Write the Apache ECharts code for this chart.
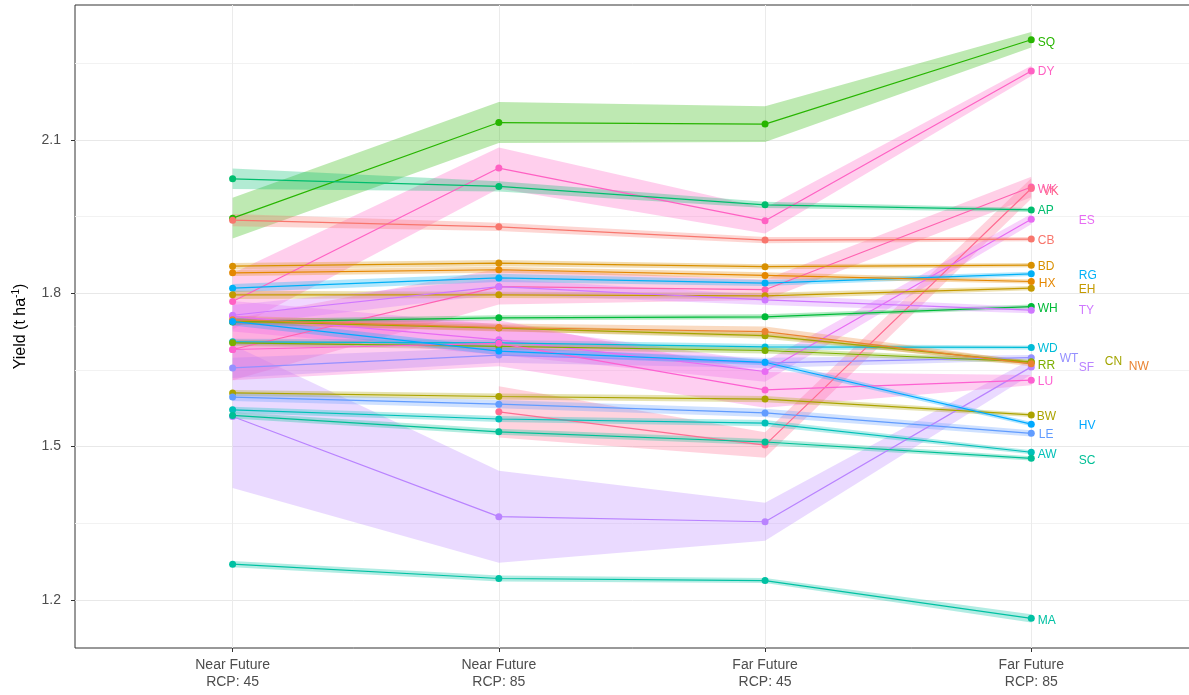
<!DOCTYPE html>
<html><head><meta charset="utf-8">
<script src="https://cdn.jsdelivr.net/npm/echarts@6/dist/echarts.min.js"></script>
<style>html,body{margin:0;padding:0;background:#fff}#c{width:1189px;height:695px}</style>
</head><body><div id="c"></div>
<script>
// ---------- data ----------
const categories = ['Near Future\nRCP: 45', 'Near Future\nRCP: 85', 'Far Future\nRCP: 45', 'Far Future\nRCP: 85'];
const sites = ['SQ','DY','WK','VK','AP','ES','CB','BD','RG','HX','EH','WH','TY','WD','WT','RR','SF','CN','NW','LU','BW','HV','LE','AW','SC','MA'];
// mean yield (t/ha) per scenario, in site order
const nearRcp45 = [1.947,1.784,1.690,null,2.024,1.755,1.943,1.853,1.810,1.840,1.797,1.744,1.757,1.705,1.654,1.703,1.559,1.745,1.748,1.690,1.605,1.745,1.597,1.572,1.561,1.270];
const nearRcp85 = [2.134,2.045,1.813,1.568,2.009,1.709,1.930,1.859,1.830,1.846,1.797,1.752,1.813,1.703,1.679,1.696,1.363,1.732,1.733,1.702,1.598,1.687,1.583,1.554,1.529,1.242];
const farRcp45  = [2.131,1.942,1.807,1.503,1.973,1.647,1.904,1.852,1.820,1.835,1.795,1.754,1.787,1.695,1.664,1.688,1.353,1.717,1.725,1.611,1.593,1.665,1.566,1.546,1.509,1.238];
const farRcp85  = [2.296,2.235,2.008,2.005,1.963,1.945,1.906,1.855,1.838,1.823,1.810,1.774,1.767,1.694,1.674,1.666,1.656,1.665,1.662,1.630,1.562,1.544,1.526,1.489,1.477,1.164];
// half width of the uncertainty ribbon per scenario
const bandNear45 = [0.040,0.055,0.060,null,0.020,0.030,0.012,0.006,0.008,0.006,0.008,0.005,0.020,0.006,0.020,0.006,0.140,0.006,0.008,0.060,0.006,0.008,0.008,0.006,0.006,0.006];
const bandNear85 = [0.040,0.040,0.035,0.050,0.010,0.030,0.008,0.006,0.008,0.006,0.006,0.005,0.015,0.006,0.015,0.006,0.090,0.006,0.008,0.045,0.006,0.008,0.008,0.006,0.006,0.006];
const bandFar45  = [0.035,0.025,0.020,0.025,0.006,0.020,0.006,0.005,0.006,0.006,0.006,0.005,0.010,0.006,0.010,0.006,0.037,0.006,0.010,0.035,0.006,0.006,0.008,0.006,0.006,0.005];
const bandFar85  = [0.015,0.010,0.020,0.020,0.004,0.010,0.004,0.004,0.004,0.004,0.004,0.004,0.006,0.004,0.005,0.004,0.015,0.004,0.005,0.010,0.004,0.004,0.006,0.004,0.004,0.008];
const yTicks = [1.2, 1.5, 1.8, 2.1];
const yMinor = [1.35, 1.65, 1.95, 2.25];
const xTicks = [0, 1, 2, 3];

// ---------- styles ----------
const colors = ['#27B500','#FF61C3','#FF62B0','#FF6C91','#00BD6E','#E76BF3','#F8766D','#D89000','#00B0F6','#E58700','#C49A00','#00BA38','#CF78FF','#00BCD8','#9590FF','#7CAE00','#B983FF','#A3A500','#EA8331','#FD61D1','#ABA300','#00A9FF','#619CFF','#00C0B8','#00BF96','#00C1A3'];
const labelShift = [[0,3],[0,1],[0,3],[5,3],[0,1],[41,2],[0,2],[0,2],[41,2],[1,2],[41,2],[0,2],[41,1],[0,1],[22,1],[0,4],[41,1],[67,-1],[91,3],[0,2],[-1,2],[41,2],[1,1],[0,2],[41,2],[0,2]];

const scen = [nearRcp45, nearRcp85, farRcp45, farRcp85];
const bands = [bandNear45, bandNear85, bandFar45, bandFar85];
function rgba(hex, a){const n=parseInt(hex.slice(1),16);return `rgba(${n>>16&255},${n>>8&255},${n&255},${a})`;}

const series = [];
// grid lines
series.push({
  type:'line', data:[], symbol:'none', silent:true, z:0,
  markLine:{silent:true, symbol:'none', z:0, animation:false, label:{show:false},
    data:[
      ...yMinor.map(v=>({yAxis:v, lineStyle:{color:'#f2f2f2', width:1, type:'solid'}})),
      ...yTicks.map(v=>({yAxis:v, lineStyle:{color:'#e8e8e8', width:1, type:'solid'}})),
      ...xTicks.map(v=>({xAxis:v, lineStyle:{color:'#ebebeb', width:1, type:'solid'}}))
    ]}
});
// ribbons
sites.forEach((name,i)=>{
  const pts=[];
  for(let k=0;k<4;k++){const v=scen[k][i], b=bands[k][i]; if(v!=null&&b!=null) pts.push([k, v-b, v+b]);}
  series.push({
    type:'custom', name:name+' band', silent:true, z:1, data:pts, encode:{x:0,y:[1,2]},
    renderItem:(params, api)=>{
      if(params.dataIndex!==0) return null;
      const up=[], lo=[];
      for(let j=0;j<pts.length;j++){
        up.push(api.coord([api.value(0,j), api.value(2,j)]));
        lo.push(api.coord([api.value(0,j), api.value(1,j)]));
      }
      return {type:'polygon', shape:{points:up.concat(lo.reverse())}, style:{fill:rgba(colors[i],0.3)}};
    }
  });
});
// lines + points + labels
sites.forEach((name,i)=>{
  const data=[];
  for(let k=0;k<4;k++){
    const v=scen[k][i]; if(v==null) continue;
    const item={value:[k,v]};
    if(k===3){
      item.label={show:true, position:'right', distance:3, offset:labelShift[i], formatter:name,
        color:colors[i], fontSize:12, fontFamily:'Liberation Sans, Arial, sans-serif'};
    }
    data.push(item);
  }
  series.push({type:'line', name, data, z:2, symbol:'circle', symbolSize:7, showSymbol:true,
    itemStyle:{color:colors[i]}, lineStyle:{color:colors[i], width:1.2}, silent:true});
});

const chart = echarts.init(document.getElementById('c'));
chart.setOption({
  animation:false,
  backgroundColor:'#ffffff',
  textStyle:{fontFamily:'Liberation Sans, Arial, sans-serif'},
  grid:{left:75, right:-2, top:5, bottom:47, outerBoundsMode:'none', containLabel:false,
    show:true, borderColor:'#333333', borderWidth:1, backgroundColor:'transparent'},
  xAxis:{type:'value', min:-0.592, max:3.6,
    axisLine:{show:false, onZero:false}, splitLine:{show:false},
    axisTick:{show:true, customValues:xTicks, length:4, lineStyle:{color:'#333333'}},
    axisLabel:{customValues:xTicks, formatter:v=>categories[Math.round(v)], color:'#4d4d4d', fontSize:14, lineHeight:17, margin:9}
  },
  yAxis:{type:'value', min:1.106, max:2.364,
    name:'Yield (t ha{sup|-1})', nameLocation:'middle', nameGap:45, nameRotate:90,
    nameTextStyle:{color:'#000', fontSize:16, rich:{sup:{fontSize:10, verticalAlign:'top', padding:[0,0,9,0], color:'#000'}}},
    axisLine:{show:false, onZero:false}, splitLine:{show:false},
    axisTick:{show:true, customValues:yTicks, length:4, lineStyle:{color:'#333333'}},
    axisLabel:{customValues:yTicks, formatter:v=>v.toFixed(1), color:'#4d4d4d', fontSize:14, margin:14}
  },
  series
});
</script></body></html>
